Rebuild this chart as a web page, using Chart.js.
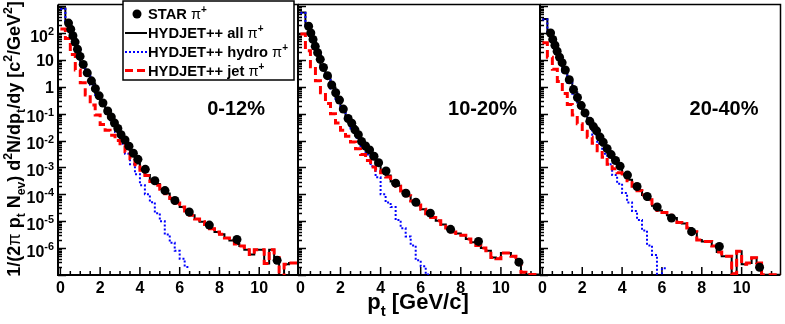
<!DOCTYPE html>
<html>
<head>
<meta charset="utf-8">
<script src="https://cdn.jsdelivr.net/npm/chart.js@4.4.0/dist/chart.umd.min.js"></script>
<style>
  body { margin: 0; background: #fff; }
  #wrap { position: relative; width: 785px; height: 324px; }
  #wrap canvas { position: absolute; left: 0; top: 0; }
</style>
</head>
<body>
<div id="wrap">
  <canvas id="p1" width="785" height="324"></canvas>
  <canvas id="p2" width="785" height="324"></canvas>
  <canvas id="p3" width="785" height="324"></canvas>
</div>
<script>
// histogram bin edges (GeV/c)
const PT_EDGES = [0, 0.25, 0.5, 0.75, 1, 1.25, 1.5, 1.75, 2, 2.25, 2.5, 2.75, 3, 3.25, 3.5, 3.75,
  4, 4.25, 4.5, 4.75, 5, 5.25, 5.5, 5.75, 6, 6.25, 6.5, 6.75, 7, 7.25, 7.5, 7.75,
  8, 8.25, 8.5, 8.75, 9, 9.25, 9.5, 9.75, 10, 10.25, 10.5, 10.75, 11, 11.25, 11.5, 11.75, 12];

const STAR_PT = [0.41, 0.52, 0.63, 0.74, 0.86, 0.99, 1.15, 1.35, 1.56, 1.76, 1.95, 2.14, 2.38, 2.56,
  2.72, 2.89, 3.05, 3.25, 3.45, 3.67, 3.9, 4.27, 4.75, 5.26, 5.76, 6.48, 7.49, 8.88, 10.9];

// 0-12%
const STAR_0_12 = [234, 138, 79, 46, 25, 13.5, 6.8, 3.3, 1.66, 0.85, 0.46, 0.25, 0.126, 7.6e-2,
  4.5e-2, 2.8e-2, 1.66e-2, 1.05e-2, 6.2e-3, 3.4e-3, 2.0e-3, 8.5e-4, 3.2e-4, 1.38e-4, 5.9e-5,
  2.2e-5, 7.2e-6, 2.1e-6, 3.5e-7];
const ALL_0_12 = [830, 280, 85, 24, 7.2, 3.0, 1.32, 0.58, 0.26, 0.126, 6.0e-2, 2.8e-2, 1.32e-2,
  5.2e-3, 2.6e-3, 1.41e-3, 8.9e-4, 5.2e-4, 3.4e-4, 2.4e-4, 1.6e-4, 1.07e-4, 7.1e-5, 4.8e-5,
  3.4e-5, 2.4e-5, 1.66e-5, 1.2e-5, 9.5e-6, 7.6e-6, 5.2e-6, 4.0e-6, 3.3e-6, 2.4e-6, 1.9e-6,
  1.41e-6, 1.2e-6, 8.7e-7, 5.8e-7, 8.7e-7, 8.7e-7, 2.7e-7, 8.7e-7, 4.5e-7, 3e-8, 2.5e-7, 2.8e-7, 2.8e-7];
const HYDRO_0_12 = [790, 260, 79, 22, 6.6, 2.75, 1.17, 0.50, 0.22, 0.105, 4.8e-2, 2.1e-2, 7.6e-3,
  3.2e-3, 1.32e-3, 5.6e-4, 2.2e-4, 1.0e-4, 5.1e-5, 2.0e-5, 1.0e-5, 3.2e-6, 1.58e-6, 7.9e-7, 4.0e-7, 2.0e-7];
const JET_0_12 = [141, 63, 15.8, 4.2, 1.41, 0.50, 0.21, 8.9e-2, 4.0e-2, 2.4e-2, 1.58e-2, 1.0e-2,
  6.6e-3, 3.8e-3, 2.1e-3, 1.26e-3, 7.9e-4, 5.0e-4, 3.0e-4, 2.2e-4, 1.55e-4, 1.05e-4, 7.0e-5,
  4.8e-5, 3.4e-5, 2.4e-5, 1.66e-5, 1.2e-5, 9.5e-6, 7.6e-6, 5.2e-6, 4.0e-6, 3.3e-6, 2.4e-6, 1.9e-6,
  1.41e-6, 1.2e-6, 8.7e-7, 5.8e-7, 8.7e-7, 8.7e-7, 2.7e-7, 8.7e-7, 4.5e-7, 3e-8, 2.5e-7, 2.8e-7, 2.8e-7];

// 10-20%
const STAR_10_20 = [178, 100, 58, 32, 18.6, 10.5, 5.2, 2.6, 1.17, 0.60, 0.32, 0.148, 6.6e-2, 4.4e-2,
  2.5e-2, 1.66e-2, 9.3e-3, 6.3e-3, 4.5e-3, 2.6e-3, 1.51e-3, 7.4e-4, 2.6e-4, 1.1e-4, 5.1e-5,
  2.0e-5, 5.0e-6, 1.78e-6, 3.0e-7];
const ALL_10_20 = [580, 200, 60, 17.8, 6.0, 2.3, 0.95, 0.40, 0.166, 7.6e-2, 3.5e-2, 1.66e-2, 7.9e-3,
  4.2e-3, 2.3e-3, 1.26e-3, 7.6e-4, 5.0e-4, 3.0e-4, 2.1e-4, 1.32e-4, 8.9e-5, 5.6e-5, 4.0e-5,
  2.8e-5, 1.9e-5, 1.38e-5, 1.05e-5, 7.6e-6, 5.6e-6, 4.0e-6, 3.5e-6, 3.0e-6, 2.2e-6, 1.66e-6,
  1.26e-6, 1.0e-6, 7.9e-7, 4.5e-7, 4.0e-7, 6.6e-7, 6.6e-7, 5.0e-7, 3.2e-7, 1.26e-7, 1.05e-7, 1.05e-7, 1.05e-7];
const HYDRO_10_20 = [550, 190, 58, 16.6, 5.6, 2.1, 0.85, 0.355, 0.141, 6.3e-2, 2.8e-2, 1.26e-2,
  5.6e-3, 3.0e-3, 1.12e-3, 4.3e-4, 1.0e-4, 5.0e-5, 3.4e-5, 1.1e-5, 5.5e-6, 2.7e-6, 1.26e-6,
  3.5e-7, 2.1e-7, 1.05e-7];
const JET_10_20 = [91, 22, 5.6, 1.66, 0.60, 0.24, 0.10, 4.5e-2, 2.4e-2, 1.45e-2, 8.9e-3, 5.0e-3,
  3.0e-3, 1.8e-3, 1.05e-3, 7.9e-4, 6.3e-4, 4.4e-4, 2.8e-4, 2.0e-4, 1.32e-4, 8.9e-5, 5.6e-5,
  4.0e-5, 2.8e-5, 1.9e-5, 1.38e-5, 1.05e-5, 7.6e-6, 5.6e-6, 4.0e-6, 3.5e-6, 3.0e-6, 2.2e-6,
  1.66e-6, 1.26e-6, 1.0e-6, 7.9e-7, 4.5e-7, 4.0e-7, 6.6e-7, 6.6e-7, 5.0e-7, 3.2e-7, 1.26e-7,
  1.05e-7, 1.05e-7, 1.05e-7];

// 20-40%
const STAR_20_40 = [100, 58, 35, 21, 12.6, 7.9, 4.2, 1.82, 0.79, 0.40, 0.20, 0.107, 5.2e-2, 3.3e-2,
  2.3e-2, 1.35e-2, 8.7e-3, 5.0e-3, 3.0e-3, 1.82e-3, 1.12e-3, 5.2e-4, 1.95e-4, 8.3e-5, 3.4e-5,
  1.32e-5, 4.1e-6, 1.15e-6, 1.95e-7];
const ALL_20_40 = [330, 95, 33, 11.2, 4.0, 1.58, 0.63, 0.26, 0.112, 5.2e-2, 2.5e-2, 1.26e-2, 6.6e-3,
  3.5e-3, 1.9e-3, 1.12e-3, 5.6e-4, 3.5e-4, 2.2e-4, 1.41e-4, 9.5e-5, 6.3e-5, 3.8e-5, 2.5e-5,
  2.1e-5, 1.66e-5, 1.32e-5, 8.9e-6, 8.3e-6, 5.6e-6, 4.1e-6, 2.0e-6, 1.78e-6, 1.78e-6, 1.2e-6,
  7.1e-7, 5.0e-7, 5.0e-7, 1.12e-7, 7.6e-7, 2.5e-7, 2.8e-7, 4.4e-7, 2.8e-7, 1.03e-7, 1.03e-7, 1.03e-7, 1.03e-7];
const HYDRO_20_40 = [320, 91, 32, 10.5, 3.6, 1.41, 0.55, 0.22, 8.9e-2, 3.8e-2, 1.66e-2, 7.6e-3,
  3.2e-3, 1.32e-3, 5.2e-4, 2.5e-4, 1.12e-4, 5.0e-5, 2.4e-5, 1.12e-5, 4.5e-6, 1.26e-6, 5.6e-7, 5e-8, 1.8e-7];
const JET_20_40 = [43, 12.6, 4.5, 1.58, 0.56, 0.22, 8.9e-2, 4.2e-2, 2.2e-2, 1.32e-2, 7.9e-3, 4.2e-3,
  2.4e-3, 1.32e-3, 8.9e-4, 6.3e-4, 4.5e-4, 3.2e-4, 2.0e-4, 1.35e-4, 9.5e-5, 6.3e-5, 3.8e-5,
  2.5e-5, 2.1e-5, 1.66e-5, 1.32e-5, 8.9e-6, 8.3e-6, 5.6e-6, 4.1e-6, 2.0e-6, 1.78e-6, 1.78e-6,
  1.2e-6, 7.1e-7, 5.0e-7, 5.0e-7, 1.12e-7, 7.6e-7, 2.5e-7, 2.8e-7, 4.4e-7, 2.8e-7, 1.03e-7,
  1.03e-7, 1.03e-7, 1.03e-7];

const CENTRALITY = ['0-12%', '10-20%', '20-40%'];
const X_TICK_LABELS = [0, 2, 4, 6, 8, 10];
const Y_TICK_EXPONENTS = [2, 1, 0, -1, -2, -3, -4, -5, -6];

const FONT = '"Liberation Sans", Arial, Helvetica, sans-serif';

function toSteps(vals) {
  const pts = vals.map((v, i) => ({ x: PT_EDGES[i], y: v }));
  pts.push({ x: PT_EDGES[vals.length], y: vals[vals.length - 1] });
  return pts;
}

// text with sub/superscripts, left baseline at (x, y)
function richText(ctx, parts, x, y, size, draw) {
  let cx = x;
  for (const p of parts) {
    const s = p.s ? size * 0.68 : size;
    ctx.font = `${p.w || 'bold'} ${s}px ${FONT}`;
    const dy = p.s === 'sub' ? size * 0.3 : p.s === 'sup' ? -size * 0.42 : 0;
    if (draw) ctx.fillText(p.t, cx, y + dy);
    cx += ctx.measureText(p.t).width;
  }
  return cx - x;
}

const rootFrame = {
  id: 'rootFrame',
  beforeDatasetsDraw(chart, args, opts) {
    const { ctx, chartArea: a } = chart;
    const x = chart.scales.x, y = chart.scales.y;
    ctx.save();
    ctx.fillStyle = '#000';
    ctx.strokeStyle = '#000';
    ctx.textBaseline = 'alphabetic';

    // ticks
    ctx.lineWidth = 1.5;
    ctx.beginPath();
    for (let v = 0; v <= x.max; v += 0.5) {
      const px = x.getPixelForValue(v);
      const len = v % 2 === 0 ? 8 : 4;
      ctx.moveTo(px, a.bottom);
      ctx.lineTo(px, a.bottom - len);
    }
    for (let d = -7; d <= 3; d++) {
      for (let k = 1; k <= 9; k++) {
        const v = k * Math.pow(10, d);
        if (v < y.min || v > y.max) continue;
        const py = Math.round(y.getPixelForValue(v)) + 0.5;
        ctx.moveTo(a.left, py);
        ctx.lineTo(a.left + (k === 1 ? 8 : 4), py);
      }
    }
    ctx.stroke();

    // frame
    ctx.lineWidth = 2;
    ctx.beginPath();
    ctx.moveTo(a.left, a.top);
    ctx.lineTo(a.left, a.bottom);
    ctx.lineTo(a.right, a.bottom);
    ctx.stroke();
    ctx.lineWidth = 1.5;
    ctx.beginPath();
    ctx.moveTo(a.left, a.top);
    ctx.lineTo(a.right, a.top);
    ctx.lineTo(a.right, a.bottom);
    ctx.stroke();

    // x tick labels
    ctx.font = `bold 16px ${FONT}`;
    ctx.textAlign = 'center';
    for (const v of X_TICK_LABELS) {
      ctx.fillText(String(v), x.getPixelForValue(v), 292.5);
    }
    ctx.textAlign = 'left';

    if (opts.panel === 0) {
      // y tick labels
      for (const e of Y_TICK_EXPONENTS) {
        const py = y.getPixelForValue(Math.pow(10, e));
        let parts;
        if (e === 0) parts = [{ t: '1' }];
        else if (e === 1) parts = [{ t: '10' }];
        else parts = [{ t: '10' }, { t: String(e), s: 'sup' }];
        const w = richText(ctx, parts, 0, 0, 16, false);
        const base = py + 5.8 + (parts.length > 1 ? 3 : 0);
        richText(ctx, parts, 54 - w, base, 16, true);
      }
      // y title
      const yt = [{ t: '1/(2' }, { t: 'π', w: 'normal' }, { t: ' p' }, { t: 't', s: 'sub' },
        { t: ' N' }, { t: 'ev', s: 'sub' }, { t: ') d' }, { t: '2', s: 'sup' }, { t: 'N/dp' },
        { t: 't', s: 'sub' }, { t: '/dy [c' }, { t: '2', s: 'sup' }, { t: '/GeV' },
        { t: '2', s: 'sup' }, { t: ']' }];
      ctx.save();
      ctx.translate(19.5, 139);
      ctx.rotate(-Math.PI / 2);
      const tw = richText(ctx, yt, 0, 0, 18, false);
      richText(ctx, yt, -tw / 2, 0, 18, true);
      ctx.restore();
    }
    if (opts.panel === 1) {
      const xt = [{ t: 'p' }, { t: 't', s: 'sub' }, { t: ' [GeV/c]' }];
      const tw = richText(ctx, xt, 0, 0, 22, false);
      richText(ctx, xt, 418 - tw / 2, 309, 22, true);
    }
    ctx.restore();
  },
  afterDatasetsDraw(chart, args, opts) {
    const { ctx, chartArea: a } = chart;
    ctx.save();
    ctx.fillStyle = '#000';
    ctx.textBaseline = 'alphabetic';
    // centrality label
    ctx.font = `bold 20px ${FONT}`;
    ctx.textAlign = 'right';
    ctx.fillText(CENTRALITY[opts.panel], a.right - opts.labelInset, 115);
    ctx.textAlign = 'left';

    if (opts.panel === 0) {
      // legend box
      ctx.fillStyle = '#fff';
      ctx.fillRect(123, 1, 171, 79);
      ctx.strokeStyle = '#000';
      ctx.lineWidth = 1.5;
      ctx.strokeRect(123, 1, 171, 79);
      const rows = [
        { y: 14, label: 'STAR ' },
        { y: 33, label: 'HYDJET++ all ', color: '#000', width: 2, dash: [] },
        { y: 52, label: 'HYDJET++ hydro ', color: '#0000ff', width: 2, dash: [2, 2] },
        { y: 70.5, label: 'HYDJET++ jet ', color: '#ff0000', width: 3, dash: [8, 4] }
      ];
      for (const r of rows) {
        if (r.color) {
          ctx.strokeStyle = r.color;
          ctx.lineWidth = r.width;
          ctx.setLineDash(r.dash);
          ctx.beginPath();
          ctx.moveTo(125, r.y);
          ctx.lineTo(147, r.y);
          ctx.stroke();
          ctx.setLineDash([]);
        } else {
          ctx.fillStyle = '#000';
          ctx.beginPath();
          ctx.arc(137, r.y, 4.5, 0, Math.PI * 2);
          ctx.fill();
        }
        ctx.fillStyle = '#000';
        richText(ctx, [{ t: r.label }, { t: 'π', w: 'normal' }, { t: '+', s: 'sup' }],
          148, r.y + 5.3, 14.7, true);
      }
    }
    ctx.restore();
  }
};

function makePanel(id, panel, padding, labelInset, star, all, hydro, jet) {
  return new Chart(document.getElementById(id), {
    type: 'line',
    data: {
      datasets: [
        {
          label: 'STAR pi+',
          data: STAR_PT.map((p, i) => ({ x: p, y: star[i] })),
          showLine: false,
          pointRadius: 4.5,
          pointBackgroundColor: '#000',
          pointBorderColor: '#000',
          pointBorderWidth: 0
        },
        {
          label: 'HYDJET++ jet pi+',
          data: toSteps(jet),
          borderColor: '#ff0000',
          borderWidth: 3,
          borderDash: [8, 4],
          stepped: true,
          pointRadius: 0
        },
        {
          label: 'HYDJET++ hydro pi+',
          data: toSteps(hydro),
          borderColor: '#0000ff',
          borderWidth: 2,
          borderDash: [2, 2],
          stepped: true,
          pointRadius: 0
        },
        {
          label: 'HYDJET++ all pi+',
          data: toSteps(all),
          borderColor: '#000',
          borderWidth: 2,
          stepped: true,
          pointRadius: 0
        }
      ]
    },
    options: {
      responsive: false,
      animation: false,
      events: [],
      layout: { padding: padding },
      scales: {
        x: { type: 'linear', min: -0.12, max: 11.95, display: false },
        y: { type: 'logarithmic', min: 1e-7, max: 1150, display: false }
      },
      plugins: {
        legend: { display: false },
        tooltip: { enabled: false },
        rootFrame: { panel: panel, labelInset: labelInset }
      }
    },
    plugins: [rootFrame]
  });
}

makePanel('p1', 0, { left: 58, right: 487, top: 1, bottom: 49 }, 33, STAR_0_12, ALL_0_12, HYDRO_0_12, JET_0_12);
makePanel('p2', 1, { left: 298, right: 245, top: 1, bottom: 49 }, 23, STAR_10_20, ALL_10_20, HYDRO_10_20, JET_10_20);
makePanel('p3', 2, { left: 540, right: 3, top: 1, bottom: 49 }, 22, STAR_20_40, ALL_20_40, HYDRO_20_40, JET_20_40);
</script>
</body>
</html>
